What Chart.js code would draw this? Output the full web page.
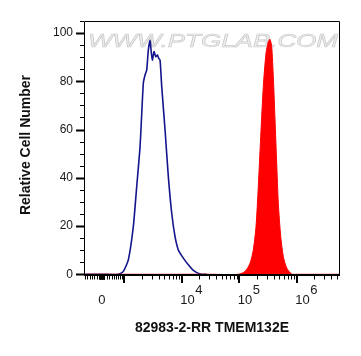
<!DOCTYPE html>
<html>
<head>
<meta charset="utf-8">
<script src="https://cdn.jsdelivr.net/npm/chart.js@4"></script>
<style>
html,body{margin:0;padding:0;background:#fff;}
#wrap{width:361px;height:356px;}
</style>
</head>
<body>
<div id="wrap"><canvas id="c" width="361" height="356"></canvas></div>
<script>
// x values are positions on the biexponential display axis (decade units: 4 = 10^4)
const blueX = [2.30, 2.60, 2.897, 2.984, 3.071, 3.158, 3.217, 3.275, 3.332, 3.362, 3.391, 3.419, 3.449, 3.466, 3.489, 3.518, 3.548, 3.576, 3.600, 3.623, 3.652, 3.710, 3.767, 3.826, 3.883, 3.941, 4.028, 4.115, 4.202, 4.318, 4.435];
const blueY = [0, 0, 0, 1.2, 6.0, 19.8, 36.4, 52.9, 79.2, 82.6, 84.7, 93.0, 97.1, 93.0, 88.8, 92.3, 90.2, 90.9, 89.5, 88.8, 77.8, 59.8, 40.5, 25.3, 15.7, 10.1, 6.7, 3.9, 1.6, 0.1, 0];
const redX = [2.30, 4.50, 4.984, 5.101, 5.188, 5.245, 5.292, 5.332, 5.374, 5.419, 5.466, 5.506, 5.536, 5.565, 5.593, 5.623, 5.652, 5.680, 5.722, 5.767, 5.826, 5.913, 6.0, 6.753];
const redY = [0, 0, 0, 1.2, 4.6, 10.1, 19.8, 36.4, 57.1, 77.8, 91.6, 96.4, 97.4, 94.3, 81.9, 64.0, 46.0, 29.5, 15.7, 7.4, 2.6, 0.1, 0, 0];
const yTicks = [0, 20, 40, 60, 80, 100];
const xTickPos = [2.609, 4, 5, 6];
const xTickBase = ['0', '10', '10', '10'];
const xTickExp = ['', '4', '5', '6'];
const xTitle = '82983-2-RR TMEM132E';
const yTitle = 'Relative Cell Number';
const watermark = 'WWW.PTGLAB.COM';

const toPts = (xs, ys) => xs.map((x, i) => ({x: x, y: ys[i]}));

// biexponential-like transform used only for placing minor tick marks near zero
const U0 = 2.609, W = 984;
const biex = v => U0 + Math.asinh(v / W) / Math.LN10;

const decor = {
  id: 'decor',
  beforeDatasetsDraw(chart) {
    const ctx = chart.ctx;
    ctx.save();
    ctx.font = 'italic 18px "Liberation Sans", Arial, sans-serif';
    const w = ctx.measureText(watermark).width;
    const sx = 250 / w;
    ctx.translate(88, 47);
    ctx.scale(sx, 1);
    ctx.textBaseline = 'alphabetic';
    ctx.textAlign = 'left';
    ctx.fillStyle = '#efefef';
    ctx.fillText(watermark, 0, 0);
    ctx.strokeStyle = '#cacaca';
    ctx.lineWidth = 0.6;
    ctx.strokeText(watermark, 0, 0);
    ctx.restore();
  },
  afterDatasetsDraw(chart) {
    const ctx = chart.ctx;
    const xs = chart.scales.x, ys = chart.scales.y;
    const a = chart.chartArea;
    ctx.save();
    ctx.strokeStyle = '#000';
    // frame
    ctx.lineWidth = 1;
    ctx.beginPath();
    ctx.moveTo(a.left + 0.5, a.bottom);
    ctx.lineTo(a.left + 0.5, a.top + 0.5);
    ctx.lineTo(a.right - 0.5, a.top + 0.5);
    ctx.lineTo(a.right - 0.5, a.bottom);
    ctx.stroke();
    ctx.lineWidth = 1.8;
    ctx.beginPath();
    ctx.moveTo(a.left, a.bottom);
    ctx.lineTo(a.right, a.bottom);
    ctx.stroke();

    // y ticks
    for (let v = 0; v <= 105; v += 5) {
      const py = Math.round(ys.getPixelForValue(v)) + 0.5;
      const major = v % 20 === 0;
      ctx.lineWidth = major ? 2 : 1;
      ctx.beginPath();
      ctx.moveTo(a.left - (major ? 8 : 4), py);
      ctx.lineTo(a.left, py);
      ctx.stroke();
    }
    ctx.fillStyle = '#1a1a1a';
    ctx.font = '12px "Liberation Sans", Arial, sans-serif';
    ctx.textAlign = 'right';
    ctx.textBaseline = 'middle';
    yTicks.forEach(v => {
      ctx.fillText(String(v), a.left - 11, ys.getPixelForValue(v));
    });

    // x minor ticks
    const minor = [];
    for (let d = 3; d <= 6; d++) {
      for (let k = 2; k <= 9; k++) minor.push(d + Math.log10(k));
    }
    for (let v = 10; v < 100; v += 10) { minor.push(biex(v)); minor.push(biex(-v)); }
    for (let v = 100; v < 1000; v += 100) { minor.push(biex(v)); minor.push(biex(-v)); }
    minor.push(biex(0));
    ctx.lineWidth = 1;
    minor.forEach(u => {
      if (u < xs.min || u > xs.max) return;
      const px = Math.round(xs.getPixelForValue(u)) + 0.5;
      ctx.beginPath();
      ctx.moveTo(px, a.bottom);
      ctx.lineTo(px, a.bottom + 4.5);
      ctx.stroke();
    });
    // x major ticks
    ctx.lineWidth = 2;
    [3, 4, 5, 6].forEach(u => {
      const px = Math.round(xs.getPixelForValue(u));
      ctx.beginPath();
      ctx.moveTo(px, a.bottom);
      ctx.lineTo(px, a.bottom + 8);
      ctx.stroke();
    });

    // x labels
    ctx.font = '13px "Liberation Sans", Arial, sans-serif';
    ctx.textBaseline = 'alphabetic';
    xTickPos.forEach((u, i) => {
      const px = xs.getPixelForValue(u);
      if (!xTickExp[i]) {
        ctx.textAlign = 'center';
        ctx.fillText(xTickBase[i], px, 304);
      } else {
        ctx.textAlign = 'left';
        const bx = px - 1.5;
        ctx.fillText(xTickBase[i], bx, 304);
        const bw = ctx.measureText(xTickBase[i]).width;
        ctx.fillText(xTickExp[i], bx + bw + 0.5, 294);
      }
    });

    // titles
    ctx.fillStyle = '#111';
    ctx.font = 'bold 14px "Liberation Sans", Arial, sans-serif';
    ctx.textAlign = 'center';
    ctx.textBaseline = 'middle';
    ctx.fillText(xTitle, 212, 328);
    ctx.save();
    ctx.translate(26, 145);
    ctx.rotate(-Math.PI / 2);
    ctx.fillText(yTitle, 0, 0);
    ctx.restore();
    ctx.restore();
  }
};

new Chart(document.getElementById('c'), {
  type: 'line',
  data: {
    datasets: [
      {
        label: 'Stained',
        data: toPts(redX, redY),
        borderColor: '#ff0000',
        backgroundColor: '#ff0000',
        borderWidth: 1,
        fill: 'origin',
        pointRadius: 0,
        tension: 0.25
      },
      {
        label: 'Isotype',
        data: toPts(blueX, blueY),
        borderColor: '#14148c',
        borderWidth: 1.6,
        fill: false,
        pointRadius: 0,
        tension: 0.2
      }
    ]
  },
  options: {
    responsive: false,
    animation: false,
    devicePixelRatio: 1,
    layout: { padding: { left: 84, top: 21, right: 21, bottom: 81 } },
    plugins: { legend: { display: false }, tooltip: { enabled: false } },
    scales: {
      x: { type: 'linear', min: 2.30, max: 6.753, display: false },
      y: { type: 'linear', min: -0.3, max: 105, display: false }
    }
  },
  plugins: [decor]
});
</script>
</body>
</html>
